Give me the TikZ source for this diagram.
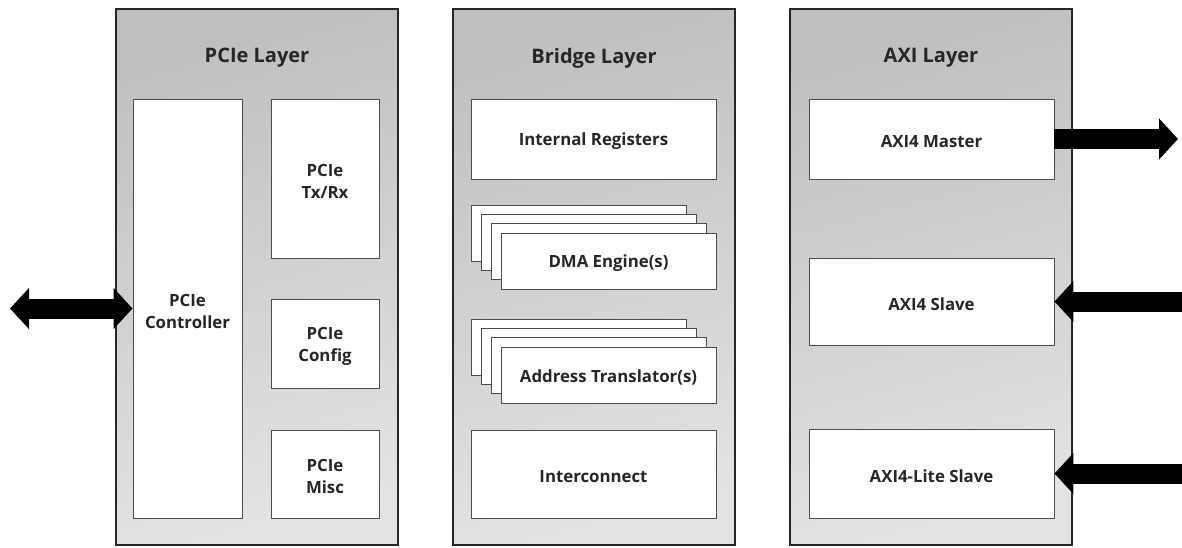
\documentclass[tikz,border=0pt]{standalone}
\usepackage{fontspec}
\setmainfont{Open Sans}
\usetikzlibrary{arrows.meta}
\begin{document}
\begin{tikzpicture}[x=1pt,y=-1pt,
  layerbox/.style={draw=black!85, line width=2pt, top color=gray!50, bottom color=gray!22,
    shading angle=15, minimum width=282pt, minimum height=536pt, inner sep=0pt},
  heading/.style={font=\bfseries\fontsize{20}{24}\selectfont, text=black!85},
  lbl/.style={align=center, inner sep=0pt, yshift=-2.5pt,
    font=\bfseries\fontsize{16.8}{22}\selectfont, text=black!85},
  block/.style={draw=black!70, line width=0.9pt, fill=white, inner sep=0pt,
    label={[lbl]center:{#1}}},
  block/.default={},
  card/.style={block={#1}, minimum width=215pt, minimum height=56pt},
  card/.default={},
  bus/.style={line width=20pt, black},
  tip/.style={Triangle[length=19pt,width=40pt]}
]
\useasboundingbox (0,0) rectangle (1182,548);

% the three layers
\node[layerbox] (pcie)   at (257,277) {};
\node[layerbox] (bridge) at (594,277) {};
\node[layerbox] (axi)    at (931,277) {};

\node[heading] (pcieT)   at (257,58) {PCIe Layer};
\node[heading] (bridgeT) at (594,58) {Bridge Layer};
\node[heading] (axiT)    at (931,58) {AXI Layer};

% PCIe layer blocks
\node[block={PCIe\\Controller}, minimum width=109pt, minimum height=419pt] (ctrl) at (187.5,308.5) {};
\node[block={PCIe\\Tx/Rx}, minimum width=108pt, minimum height=159pt] (txrx) at (325,178.5) {};
\node[block={PCIe\\Config}, minimum width=108pt, minimum height=89pt]  (cfg)  at (325,343.5) {};
\node[block={PCIe\\Misc}, minimum width=108pt, minimum height=88pt]  (misc) at (325,474) {};

% bridge layer blocks
\node[block={Internal Registers}, minimum width=245pt, minimum height=80pt] (regs) at (593.5,139) {};
\foreach \k in {3,2,1}{
  \node[card] (dma\k) at ({608.5-10*\k},{261-9.3*\k}) {};
  \node[card] (atr\k) at ({608.5-10*\k},{375-9.3*\k}) {};
}
\node[card={DMA Engine(s)}] (dma) at (608.5,261) {};
\node[card={Address Translator(s)}] (atr) at (608.5,375) {};
\node[block={Interconnect}, minimum width=245pt, minimum height=88pt] (icon) at (593.5,474) {};

% AXI layer blocks
\node[block={AXI4 Master}, minimum width=245pt, minimum height=80pt] (mst)  at (931.5,139) {};
\node[block={AXI4 Slave}, minimum width=245pt, minimum height=87pt] (slv)  at (931.5,301.5) {};
\node[block={AXI4-Lite Slave}, minimum width=245pt, minimum height=89pt] (lite) at (931.5,473.5) {};

% external interfaces
\coordinate (host)  at (10,308.5);
\coordinate (mOut)  at (1178,139);
\coordinate (sIn)   at (1183,301.5);
\coordinate (lIn)   at (1183,473.5);

\draw[bus, {Triangle[length=19pt,width=40pt]}-{Triangle[length=19pt,width=40pt]}] (host) -- (ctrl.west);
\draw[bus, -{Triangle[length=19pt,width=40pt]}] (mst.east) -- (mOut);
\draw[bus, -{Triangle[length=19pt,width=40pt]}] (sIn) -- (slv.east);
\draw[bus, -{Triangle[length=19pt,width=40pt]}] (lIn) -- (lite.east);
\end{tikzpicture}
\end{document}
